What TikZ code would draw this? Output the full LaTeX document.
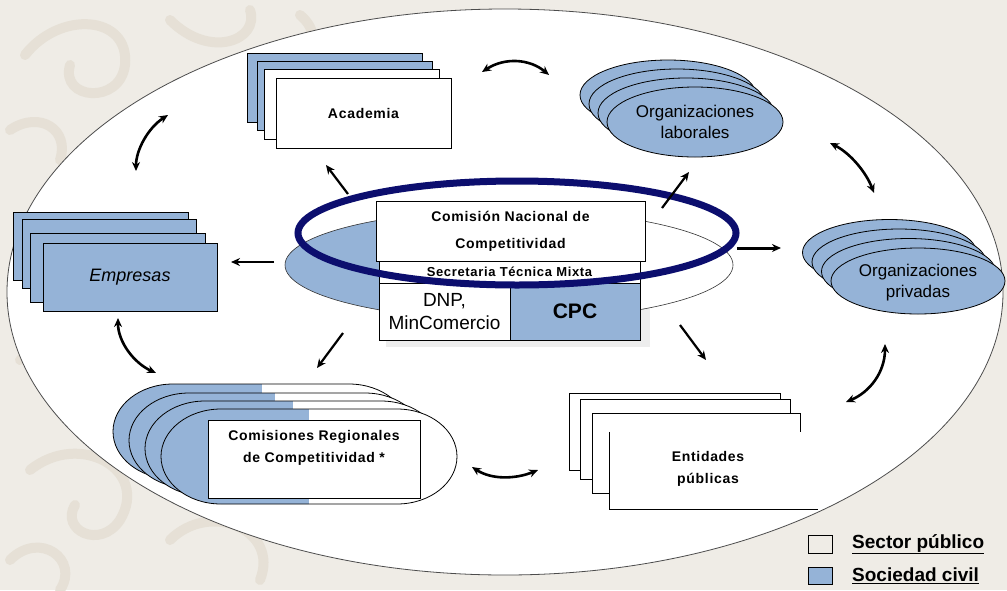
\documentclass[tikz,border=0pt]{standalone}
\usepackage{fontspec}
\setmainfont{Liberation Sans}
\newfontfamily\spaced[LetterSpace=5]{Liberation Sans}
\usetikzlibrary{arrows.meta,shapes.geometric}
\definecolor{bg}{RGB}{239,236,230}
\definecolor{bgpat}{RGB}{230,224,214}
\definecolor{blu}{RGB}{149,179,215}
\definecolor{navyb}{RGB}{12,14,110}
\begin{document}
\begin{tikzpicture}[x=1pt,y=-1pt,
  tip/.tip={Stealth[length=9pt,width=8pt]},
  arr/.style={line width=2.2pt,-tip},
  darr/.style={line width=2.6pt,tip-tip},
  card/.style={draw=black,line width=0.9pt,inner sep=0pt},
  oval/.style={ellipse,draw=black,line width=0.8pt,fill=blu,inner sep=0pt,minimum width=176pt,minimum height=70pt},
  lbl/.style={inner sep=0pt,align=center,font=\spaced\bfseries\fontsize{14}{22}\selectfont},
  pat/.style={bgpat,line width=10pt,line cap=round}]
\useasboundingbox (0,0) rectangle (1007,590);
\fill[bg] (0,0) rectangle (1007,590);
% decorative background swirls
\draw[pat] (25,55) .. controls (60,10) and (130,15) .. (125,65) .. controls (120,105) and (60,100) .. (70,65);
\draw[pat] (170,20) .. controls (210,60) and (260,40) .. (250,10);
\draw[pat] (300,15) .. controls (330,40) and (300,70) .. (270,60);
\draw[pat] (10,130) .. controls (40,110) and (70,130) .. (60,160);
\draw[pat] (20,360) .. controls (60,330) and (90,380) .. (60,410);
\draw[pat] (30,470) .. controls (80,430) and (150,470) .. (120,520) .. controls (100,550) and (60,530) .. (75,505);
\draw[pat] (170,540) .. controls (210,500) and (280,530) .. (260,580);
\draw[pat] (10,560) .. controls (40,530) and (80,560) .. (60,590);
% big white ellipse
\node[ellipse,draw=black!70,line width=0.8pt,fill=white,minimum width=996pt,minimum height=566pt,inner sep=0pt] (world) at (505,292) {};
% ---------- central cluster ----------
\fill[black!7] (386,290) rectangle (650,347);
\fill[white] (509,265) ellipse [x radius=224pt,y radius=55pt];
\begin{scope}
  \clip (270,200) rectangle (509,340);
  \fill[blu] (509,265) ellipse [x radius=224pt,y radius=55pt];
\end{scope}
\node[ellipse,draw=black!80,line width=0.6pt,minimum width=448pt,minimum height=110pt,inner sep=0pt] (ring) at (509,265) {};
\node[card,fill=white,minimum width=261pt,minimum height=23pt,font=\spaced\bfseries\fontsize{13}{15}\selectfont] (sec) at (509.5,271.5) {Secretaria Técnica Mixta};
\node[card,fill=white,minimum width=131pt,minimum height=57pt,align=center,font=\fontsize{19}{23}\selectfont] (dnp) at (444.5,311.5) {DNP,\\MinComercio};
\node[card,fill=blu,minimum width=130pt,minimum height=57pt,font=\bfseries\fontsize{21}{24}\selectfont] (cpc) at (575,311.5) {CPC};
\node[ellipse,draw=navyb,line width=7pt,minimum width=438pt,minimum height=104pt,inner sep=0pt] (navy) at (517,233) {};
\node[card,fill=white,minimum width=269pt,minimum height=60pt,lbl,font=\spaced\bfseries\fontsize{14}{27}\selectfont] (cnc) at (510.5,231) {Comisión Nacional de\\Competitividad};
% ---------- Academia ----------
\node[card,fill=blu,minimum width=175pt,minimum height=69pt] (ac1) at (334.5,87.5) {};
\node[card,fill=blu,minimum width=175pt,minimum height=69pt] (ac2) at (344.5,95.5) {};
\node[card,fill=white,minimum width=175pt,minimum height=70pt] (ac3) at (351.5,104) {};
\node[card,fill=white,minimum width=175pt,minimum height=70pt] (acad) at (363.5,113) {};
\node[lbl] (acadt) at (363.5,113) {Academia};
% ---------- Empresas ----------
\node[card,fill=blu,minimum width=175pt,minimum height=68pt] (em1) at (100.5,246) {};
\node[card,fill=blu,minimum width=174pt,minimum height=69pt] (em2) at (109,253.5) {};
\node[card,fill=blu,minimum width=175pt,minimum height=69pt] (em3) at (117.5,267.5) {};
\node[card,fill=blu,minimum width=174pt,minimum height=68pt,font=\itshape\fontsize{18}{20}\selectfont] (emp) at (130,277) {Empresas};
% ---------- Organizaciones laborales ----------
\node[oval] (ol1) at (668,95) {};
\node[oval] (ol2) at (677,104) {};
\node[oval] (ol3) at (686,113) {};
\node[oval] (olab) at (695,122) {};
\node[align=center,inner sep=0pt,font=\fontsize{17}{21}\selectfont] (olabt) at (695,122) {Organizaciones\\laborales};
% ---------- Organizaciones privadas ----------
\node[oval,minimum width=174pt,minimum height=66pt] (op1) at (889.5,252.5) {};
\node[oval,minimum width=174pt,minimum height=66pt] (op2) at (899,262) {};
\node[oval,minimum width=174pt,minimum height=66pt] (op3) at (908.5,271.5) {};
\node[oval,minimum width=174pt,minimum height=66pt] (opriv) at (918,281) {};
\node[align=center,inner sep=0pt,font=\fontsize{17}{21}\selectfont] (oprivt) at (918,283) {Organizaciones\\privadas};
% ---------- Comisiones Regionales ----------
\foreach \xa/\xb/\ya/\yb/\sp in {113/409/384/479/262, 129/425/393/488/275, 145/441/401/496/293, 161/457/409/504/309}{
  \pgfmathsetmacro{\hh}{(\yb-\ya)/2}
  \def\shp{(\xa+60,\ya) -- (\xb-60,\ya) arc[start angle=90,end angle=-90,x radius=60pt,y radius=\hh pt] -- (\xa+60,\yb) arc[start angle=-90,end angle=-270,x radius=60pt,y radius=\hh pt] -- cycle}
  \fill[white] \shp;
  \begin{scope}
    \clip \shp;
    \fill[blu] (\xa-5,\ya-5) rectangle (\sp,\yb+5);
  \end{scope}
  \draw[black,line width=0.8pt] \shp;
}
\node[card,fill=white,minimum width=212pt,minimum height=78pt,line width=0.7pt] (crc) at (314,459) {};
\node[lbl] (crct) at (314,448) {Comisiones Regionales\\de Competitividad *};
% ---------- Entidades publicas ----------
\node[card,fill=white,minimum width=211pt,minimum height=77pt] (en1) at (674.5,431.5) {};
\node[card,fill=white,minimum width=210pt,minimum height=80pt] (en2) at (685,439) {};
\node[card,fill=white,minimum width=208pt,minimum height=80pt] (en3) at (696,453) {};
\node[inner sep=0pt,fill=white,minimum width=208pt,minimum height=77pt] (ent) at (714,470.5) {};
\draw[black,line width=0.9pt] (ent.north west) -- (ent.south west) -- (ent.south east);
\node[lbl] (entt) at (708,469) {Entidades\\públicas};
% ---------- connectors ----------
\coordinate (a1s) at (168,115); \coordinate (a1e) at (136,171);
\coordinate (a2s) at (482,72);  \coordinate (a2e) at (549,75);
\coordinate (a3s) at (830,143); \coordinate (a3e) at (874,193);
\coordinate (a4s) at (885,344); \coordinate (a4e) at (846,402);
\coordinate (a5s) at (472,467); \coordinate (a5e) at (538,470);
\coordinate (a6s) at (118,318); \coordinate (a6e) at (156,373);
\draw[darr] (a1s) .. controls (148,128) and (136,150) .. (a1e);
\draw[darr] (a2s) .. controls (505,57) and (530,59) .. (a2e);
\draw[darr] (a3s) .. controls (850,153) and (866,172) .. (a3e);
\draw[darr] (a4s) .. controls (885,372) and (870,392) .. (a4e);
\draw[darr] (a5s) .. controls (492,480) and (516,479) .. (a5e);
\draw[darr] (a6s) .. controls (118,342) and (134,363) .. (a6e);
\coordinate (c1s) at (348,194); \coordinate (c1e) at (326,165);
\coordinate (c2s) at (662,208); \coordinate (c2e) at (689,172);
\coordinate (c3s) at (737,248); \coordinate (c3e) at (781,248);
\coordinate (c4s) at (680,325); \coordinate (c4e) at (706,360);
\coordinate (c5s) at (343,333); \coordinate (c5e) at (317,368);
\coordinate (c6s) at (274,262); \coordinate (c6e) at (231,262);
\draw[arr] (c1s) -- (c1e);
\draw[arr] (c2s) -- (c2e);
\draw[arr,line width=3pt] (c3s) -- (c3e);
\draw[arr] (c4s) -- (c4e);
\draw[arr] (c5s) -- (c5e);
\draw[arr] (c6s) -- (c6e);
% ---------- legend ----------
\node[draw=black,line width=1pt,fill=bg,minimum width=24pt,minimum height=18pt,inner sep=0pt] (lgp) at (820,544) {};
\node[draw=black,line width=1pt,fill=blu,minimum width=24pt,minimum height=17pt,inner sep=0pt] (lgc) at (820,575.5) {};
\node[anchor=west,inner sep=0pt,font=\bfseries\fontsize{19}{21}\selectfont] (lgpt) at (852,544) {\underline{Sector público}};
\node[anchor=west,inner sep=0pt,font=\bfseries\fontsize{19}{21}\selectfont] (lgct) at (852,575.5) {\underline{Sociedad civil}};
\end{tikzpicture}
\end{document}
